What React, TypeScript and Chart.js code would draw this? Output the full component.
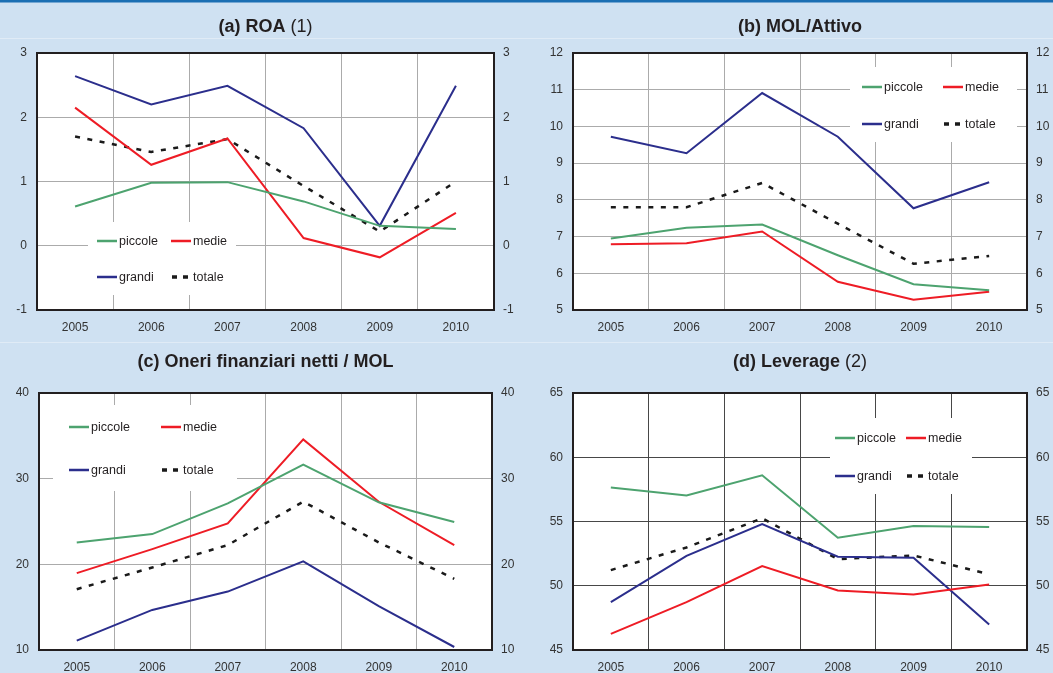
import React, { useEffect, useRef } from 'react';
import { Chart, registerables } from 'chart.js';

Chart.register(...registerables);

// ---------- data ----------
const years = ['2005', '2006', '2007', '2008', '2009', '2010'];
const seriesNames = ['piccole', 'medie', 'grandi', 'totale'];

const roaPiccole = [0.61, 0.98, 0.99, 0.69, 0.31, 0.26];
const roaMedie = [2.15, 1.26, 1.67, 0.12, -0.18, 0.51];
const roaGrandi = [2.64, 2.2, 2.49, 1.83, 0.31, 2.49];
const roaTotale = [1.7, 1.46, 1.66, 0.93, 0.22, 1.0];

const molPiccole = [6.95, 7.24, 7.33, 6.49, 5.7, 5.54];
const molMedie = [6.79, 6.82, 7.14, 5.77, 5.28, 5.5];
const molGrandi = [9.72, 9.27, 10.91, 9.72, 7.77, 8.48];
const molTotale = [7.8, 7.8, 8.46, 7.35, 6.26, 6.47];

const oneriPiccole = [22.56, 23.53, 27.12, 31.65, 27.24, 24.94];
const oneriMedie = [18.97, 21.78, 24.78, 34.58, 27.3, 22.25];
const oneriGrandi = [11.09, 14.68, 16.82, 20.34, 15.11, 10.35];
const oneriTotale = [17.1, 19.63, 22.25, 27.32, 22.56, 18.31];

const levPiccole = [57.64, 57.02, 58.6, 53.74, 54.65, 54.57];
const levMedie = [46.25, 48.72, 51.53, 49.63, 49.32, 50.1];
const levGrandi = [48.72, 52.33, 54.8, 52.26, 52.18, 46.98];
const levTotale = [51.22, 52.98, 55.25, 52.07, 52.36, 50.9];

// ---------- styles ----------
const FONT = "'Liberation Sans', Arial, Helvetica, sans-serif";
const BG = '#cfe1f2';
const COLORS = ['#4da36f', '#ee1c25', '#2b2e8c', '#1a1a1a'];
const DASHES: number[][] = [[], [], [], [5, 7.5]];
const WIDTHS = [2, 2, 2, 2.5];

type Spec = {
  key: string;
  titleParts: { text: string; bold: boolean }[];
  values: number[][];
  min: number;
  max: number;
  step: number;
  left: number;
  top: number;
  w: number;
  h: number;
  yLeftW: number;
  yRightW: number;
  xH: number;
  topPad: number;
  titleY: number;
  stripe: boolean;
  sepY: number;
  grid: string;
  legendBox: [number, number, number, number];
  colX: [number, number];
  rowY: [number, number];
};

const specs: Spec[] = [
  {
    key: 'a',
    titleParts: [
      { text: '(a) ROA', bold: true },
      { text: ' (1)', bold: false },
    ],
    values: [roaPiccole, roaMedie, roaGrandi, roaTotale],
    min: -1, max: 3, step: 1,
    left: 0, top: 0, w: 527, h: 340,
    yLeftW: 37, yRightW: 33, xH: 30, topPad: 53, titleY: 27,
    stripe: true, sepY: 38, grid: '#ababab',
    legendBox: [88, 222, 148, 73], colX: [97, 171], rowY: [241, 277],
  },
  {
    key: 'b',
    titleParts: [{ text: '(b) MOL/Attivo', bold: true }],
    values: [molPiccole, molMedie, molGrandi, molTotale],
    min: 5, max: 12, step: 1,
    left: 527, top: 0, w: 560, h: 340,
    yLeftW: 46, yRightW: 60, xH: 30, topPad: 53, titleY: 27,
    stripe: true, sepY: 38, grid: '#ababab',
    legendBox: [323, 67, 167, 75], colX: [335, 416], rowY: [87, 124],
  },
  {
    key: 'c',
    titleParts: [{ text: '(c) Oneri finanziari netti / MOL', bold: true }],
    values: [oneriPiccole, oneriMedie, oneriGrandi, oneriTotale],
    min: 10, max: 40, step: 10,
    left: 0, top: 340, w: 527, h: 345,
    yLeftW: 39, yRightW: 35, xH: 35, topPad: 53, titleY: 22,
    stripe: false, sepY: 2, grid: '#ababab',
    legendBox: [53, 65, 184, 86], colX: [69, 161], rowY: [87, 130],
  },
  {
    key: 'd',
    titleParts: [
      { text: '(d) Leverage', bold: true },
      { text: ' (2)', bold: false },
    ],
    values: [levPiccole, levMedie, levGrandi, levTotale],
    min: 45, max: 65, step: 5,
    left: 527, top: 340, w: 560, h: 345,
    yLeftW: 46, yRightW: 60, xH: 35, topPad: 53, titleY: 22,
    stripe: false, sepY: 2, grid: '#474747',
    legendBox: [303, 78, 142, 76], colX: [308, 379], rowY: [98, 136],
  },
];

function makePlugin(spec: Spec) {
  return {
    id: 'panelDecor_' + spec.key,
    beforeDraw(chart: any) {
      const ctx = chart.ctx as CanvasRenderingContext2D;
      const { width, height } = chart;
      const a = chart.chartArea;
      ctx.save();
      ctx.fillStyle = BG;
      ctx.fillRect(0, 0, width, height);
      if (spec.stripe) {
        ctx.fillStyle = '#1b6fb3';
        ctx.fillRect(0, 0, width, 2.5);
      }
      ctx.fillStyle = '#e0ebf6';
      ctx.fillRect(0, spec.sepY, width, 1);
      ctx.fillStyle = '#ffffff';
      ctx.fillRect(a.left, a.top, a.right - a.left, a.bottom - a.top);
      // title
      const cx = (a.left + a.right) / 2;
      const fonts = spec.titleParts.map(
        (p) => `${p.bold ? 'bold ' : ''}18px ${FONT}`
      );
      let total = 0;
      const widths = spec.titleParts.map((p, i) => {
        ctx.font = fonts[i];
        const wd = ctx.measureText(p.text).width;
        total += wd;
        return wd;
      });
      let x = cx - total / 2;
      ctx.fillStyle = '#231f20';
      ctx.textBaseline = 'middle';
      ctx.textAlign = 'left';
      spec.titleParts.forEach((p, i) => {
        ctx.font = fonts[i];
        ctx.fillText(p.text, x, spec.titleY);
        x += widths[i];
      });
      ctx.restore();
    },
    beforeDatasetsDraw(chart: any) {
      const ctx = chart.ctx as CanvasRenderingContext2D;
      ctx.save();
      const [bx, by, bw, bh] = spec.legendBox;
      ctx.fillStyle = '#ffffff';
      ctx.fillRect(bx, by, bw, bh);
      ctx.font = `12.5px ${FONT}`;
      ctx.textBaseline = 'middle';
      ctx.textAlign = 'left';
      chart.data.datasets.forEach((ds: any, i: number) => {
        const x0 = spec.colX[i % 2];
        const y0 = spec.rowY[Math.floor(i / 2)];
        ctx.strokeStyle = ds.borderColor;
        ctx.lineWidth = i === 3 ? 3.5 : 2.5;
        ctx.setLineDash(i === 3 ? [5, 6] : []);
        ctx.beginPath();
        ctx.moveTo(x0 + (i === 3 ? 1 : 0), y0);
        ctx.lineTo(x0 + 20, y0);
        ctx.stroke();
        ctx.setLineDash([]);
        ctx.fillStyle = '#231f20';
        ctx.fillText(ds.label, x0 + 22, y0 + 0.5);
      });
      ctx.restore();
    },
    afterDatasetsDraw(chart: any) {
      const ctx = chart.ctx as CanvasRenderingContext2D;
      const a = chart.chartArea;
      ctx.save();
      ctx.strokeStyle = '#231f20';
      ctx.lineWidth = 2;
      ctx.strokeRect(a.left, a.top, a.right - a.left, a.bottom - a.top);
      ctx.restore();
    },
  };
}

function Panel({ spec }: { spec: Spec }) {
  const ref = useRef<HTMLCanvasElement>(null);
  useEffect(() => {
    const canvas = ref.current!;
    const tickFont = { family: FONT, size: 12 };
    const chart = new Chart(canvas, {
      type: 'line',
      data: {
        labels: years,
        datasets: seriesNames.map((name, i) => ({
          label: name,
          data: spec.values[i],
          borderColor: COLORS[i],
          backgroundColor: COLORS[i],
          borderWidth: WIDTHS[i],
          borderDash: DASHES[i],
          pointRadius: 0,
          tension: 0,
          fill: false,
          yAxisID: 'y',
        })),
      },
      options: {
        animation: false,
        responsive: false,
        devicePixelRatio: 1,
        layout: { padding: { top: spec.topPad, left: 0, right: 0, bottom: 0 } },
        plugins: {
          legend: { display: false },
          title: { display: false },
          tooltip: { enabled: false },
        },
        scales: {
          x: {
            type: 'category',
            offset: true,
            grid: { offset: true, color: spec.grid, lineWidth: 1, drawTicks: false },
            border: { display: false },
            ticks: {
              padding: 10,
              color: '#333333',
              font: tickFont,
              maxRotation: 0,
              autoSkip: false,
            },
            afterFit: (s: any) => {
              s.height = spec.xH;
            },
          },
          y: {
            type: 'linear',
            position: 'left',
            min: spec.min,
            max: spec.max,
            ticks: { stepSize: spec.step, padding: 10, color: '#333333', font: tickFont },
            grid: { color: spec.grid, lineWidth: 1, drawTicks: false },
            border: { display: false },
            afterFit: (s: any) => {
              s.width = spec.yLeftW;
            },
          },
          y2: {
            type: 'linear',
            position: 'right',
            display: true,
            min: spec.min,
            max: spec.max,
            ticks: { stepSize: spec.step, padding: 9, color: '#333333', font: tickFont },
            grid: { display: false, drawTicks: false },
            border: { display: false },
            afterFit: (s: any) => {
              s.width = spec.yRightW;
            },
          },
        },
      } as any,
      plugins: [makePlugin(spec)],
    });
    return () => chart.destroy();
  }, [spec]);
  return (
    <canvas
      ref={ref}
      width={spec.w}
      height={spec.h}
      style={{
        position: 'absolute',
        left: spec.left,
        top: spec.top,
        width: spec.w,
        height: spec.h,
        display: 'block',
      }}
    />
  );
}

export default function App() {
  return (
    <div
      style={{
        position: 'fixed',
        left: 0,
        top: 0,
        width: 1053,
        height: 673,
        overflow: 'hidden',
        background: BG,
      }}
    >
      {specs.map((s) => (
        <Panel key={s.key} spec={s} />
      ))}
    </div>
  );
}
